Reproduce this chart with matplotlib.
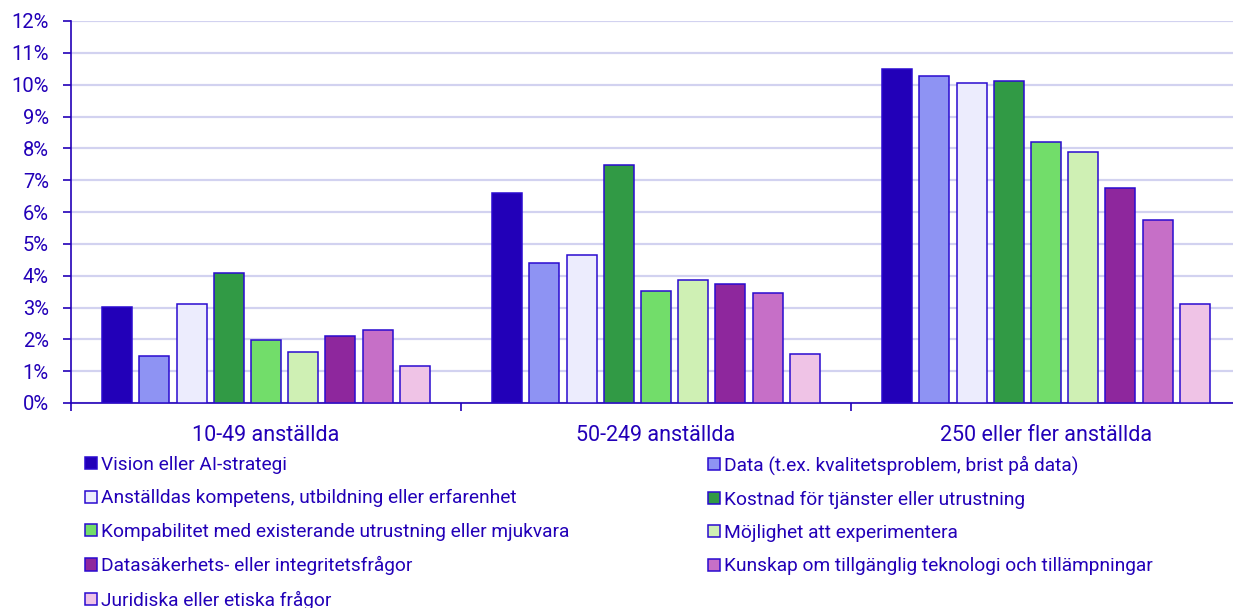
import matplotlib.pyplot as plt
from matplotlib.patches import Patch
import numpy as np

plt.rcParams['font.family'] = ['Roboto', 'DejaVu Sans']

# data (percent of companies)
groups = ["10-49 anställda", "50-249 anställda", "250 eller fler anställda"]
series = [
    "Vision eller AI-strategi",
    "Data (t.ex. kvalitetsproblem, brist på data)",
    "Anställdas kompetens, utbildning eller erfarenhet",
    "Kostnad för tjänster eller utrustning",
    "Kompabilitet med existerande utrustning eller mjukvara",
    "Möjlighet att experimentera",
    "Datasäkerhets- eller integritetsfrågor",
    "Kunskap om tillgänglig teknologi och tillämpningar",
    "Juridiska eller etiska frågor",
]
values = [
    [3.02, 6.60, 10.50],
    [1.47, 4.40, 10.27],
    [3.12, 4.66, 10.06],
    [4.09, 7.49, 10.11],
    [1.99, 3.53, 8.21],
    [1.60, 3.87, 7.87],
    [2.12, 3.75, 6.75],
    [2.28, 3.45, 5.76],
    [1.15, 1.55, 3.11],
]
colors = ["#2200b8", "#8e93f3", "#ececfd", "#319a45", "#72dd6a",
          "#cff0b4", "#8e279d", "#c66fc7", "#efc3e6"]

blue = "#2200b8"
edge = "#2a0ad0"

W, H = 1233, 608
fig = plt.figure(figsize=(W / 100, H / 100), dpi=100)
ax = fig.add_axes([71 / W, 1 - 403 / H, (1241 - 71) / W, (403 - 21) / H])

x = np.arange(len(groups))
pitch = 0.0954
width = 0.077
for i, name in enumerate(series):
    ax.bar(x + (i - 4) * pitch, values[i], width, color=colors[i],
           edgecolor=edge, linewidth=1.1, label=name, zorder=3)

ax.set_xlim(-0.5, 2.5)
ax.set_ylim(0, 12)
ax.set_yticks(range(0, 13))
ax.set_yticklabels([f"{v}%" for v in range(0, 13)])
ax.grid(axis='y', color='#d2d2f0', linewidth=1.6, zorder=0)

ax.set_xticks([-0.5, 0.5, 1.5, 2.5])
ax.set_xticklabels([])
ax.set_xticks(x, minor=True)
ax.set_xticklabels(groups, minor=True, fontsize=15.5, color=blue)
ax.tick_params(axis='x', which='minor', length=0, pad=16)
ax.tick_params(axis='x', which='major', length=6, width=1.2, color=blue)
ax.tick_params(axis='y', length=6, width=1.2, color=blue, labelcolor=blue,
               labelsize=14.5, pad=10)

for s in ['top', 'right']:
    ax.spines[s].set_visible(False)
for s in ['left', 'bottom']:
    ax.spines[s].set_color(blue)
    ax.spines[s].set_linewidth(1.2)

# legend: two columns, read row-wise
handles = [Patch(facecolor=colors[i], edgecolor=edge, linewidth=1.1) for i in range(len(series))]
left = [0, 2, 4, 6, 8]
right = [1, 3, 5, 7]
for idx, xpos in [(left, 85), (right, 708)]:
    fig.legend([handles[i] for i in idx], [series[i] for i in idx],
               loc='upper left', bbox_to_anchor=(xpos / W, 1 - 456 / H),
               frameon=False, fontsize=13.8, labelcolor=blue,
               handlelength=0.6, handleheight=0.6, handletextpad=0.25,
               labelspacing=0.8, borderpad=0, borderaxespad=0)

fig.savefig("out.png", dpi=100)
